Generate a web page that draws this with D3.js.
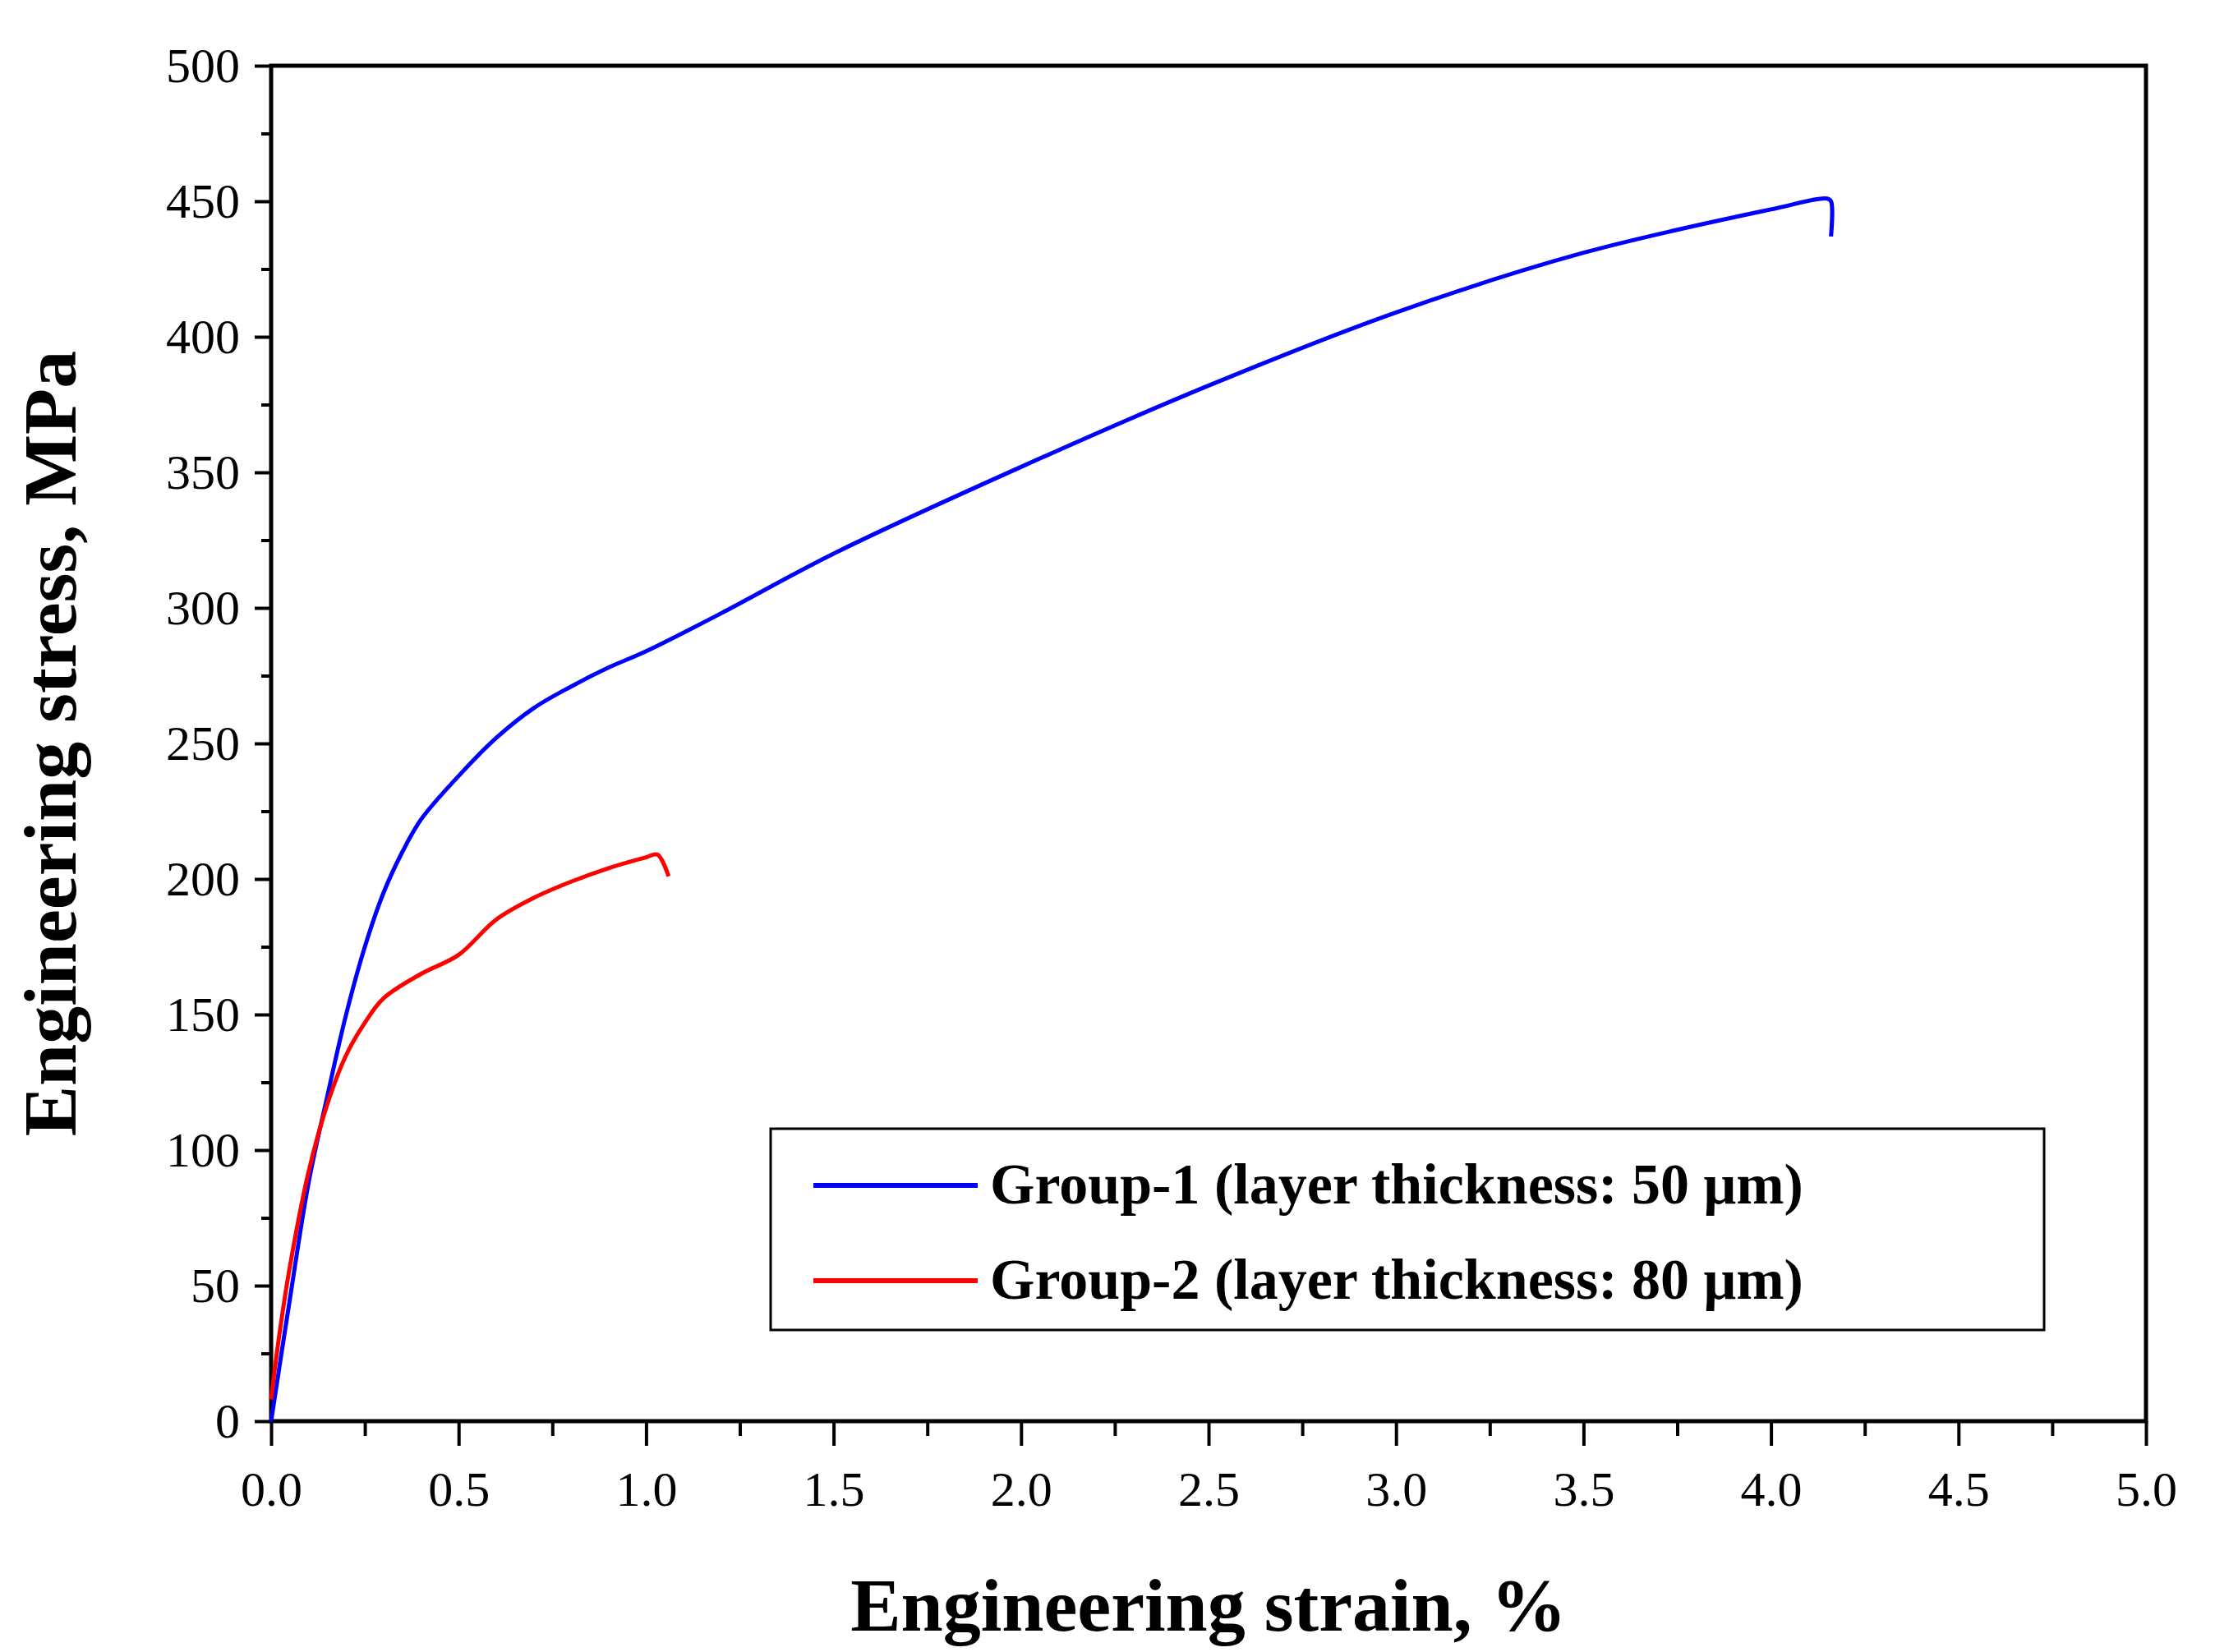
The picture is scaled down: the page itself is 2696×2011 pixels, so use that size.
<!DOCTYPE html><html><head><meta charset="utf-8"><script src="https://cdn.jsdelivr.net/npm/d3@7"></script>
<style>body{margin:0;background:#fff}</style></head><body><svg id="c" width="2696" height="2011"></svg>
<script>
const xTicks=[0,0.5,1,1.5,2,2.5,3,3.5,4,4.5,5];
const yTicks=[0,50,100,150,200,250,300,350,400,450,500];
const g1x=[0,0.05,0.1,0.15,0.2,0.25,0.3,0.35,0.4,0.5,0.6,0.7,0.8,0.9,1.0,1.2,1.5,2.0,2.5,3.0,3.5,4.0,4.15,4.16,4.16];
const g1y=[0,45,88,120,150,175,195,210,222,238,252,263,271,278,284,298,320,352,382,409,431,447,451,450,437];
const g2x=[0,0.02,0.05,0.1,0.15,0.2,0.25,0.3,0.4,0.5,0.6,0.7,0.8,0.9,1.0,1.03,1.06];
const g2y=[8,30,57,92,117,135,147,156,165,172,185,193,199,204,208,209,201];
const names=["Group-1 (layer thickness: 50 μm)","Group-2 (layer thickness: 80 μm)"];
const colors=["#0000ff","#ff0000"];
const F="'Liberation Serif','DejaVu Serif',serif";
const L=330,R=2612,T=80,B=1730;
const svg=d3.select("#c");
const x=d3.scaleLinear().domain([0,5]).range([L,R]);
const y=d3.scaleLinear().domain([0,500]).range([B,T]);
svg.append("g").attr("transform",`translate(0,${B})`).call(d3.axisBottom(x).tickValues(xTicks).tickSize(30).tickPadding(30).tickFormat(d3.format(".1f")));
svg.append("g").attr("transform",`translate(0,${B})`).call(d3.axisBottom(x).tickValues(d3.range(0.25,5,0.5)).tickSize(18).tickFormat(""));
svg.append("g").attr("transform",`translate(${L},0)`).call(d3.axisLeft(y).tickValues(yTicks).tickSize(20).tickPadding(18));
svg.append("g").attr("transform",`translate(${L},0)`).call(d3.axisLeft(y).tickValues(d3.range(25,500,50)).tickSize(12).tickFormat(""));
svg.selectAll(".domain").remove();
svg.selectAll(".tick line").attr("stroke","#000").attr("stroke-width",4);
svg.selectAll(".tick text").attr("font-family",F).attr("font-size",60).attr("fill","#000");
svg.append("rect").attr("x",L).attr("y",T).attr("width",R-L).attr("height",B-T).attr("fill","none").attr("stroke","#000").attr("stroke-width",5);
const line=d3.line().x(d=>x(d[0])).y(d=>y(d[1])).curve(d3.curveCatmullRom.alpha(0.5));
[[g1x,g1y],[g2x,g2y]].forEach((s,i)=>{
 svg.append("path").datum(s[0].map((v,j)=>[v,s[1][j]])).attr("d",line).attr("fill","none").attr("stroke",colors[i]).attr("stroke-width",5);
});
svg.append("rect").attr("x",938).attr("y",1374).attr("width",1550).attr("height",245).attr("fill","#fff").attr("stroke","#000").attr("stroke-width",3);
names.forEach((n,i)=>{
 const yy=1443+i*116;
 svg.append("line").attr("x1",990).attr("x2",1190).attr("y1",yy).attr("y2",yy).attr("stroke",colors[i]).attr("stroke-width",6);
 svg.append("text").attr("x",1205).attr("y",yy+22).attr("font-family",F).attr("font-weight","bold").attr("font-size",70).text(n);
});
svg.append("text").attr("x",(L+R)/2).attr("y",1985).attr("text-anchor","middle").attr("font-family",F).attr("font-weight","bold").attr("font-size",92).text("Engineering strain, %");
svg.append("text").attr("transform",`translate(92,${(T+B)/2}) rotate(-90)`).attr("text-anchor","middle").attr("font-family",F).attr("font-weight","bold").attr("font-size",92).text("Engineering stress, MPa");
</script></body></html>
